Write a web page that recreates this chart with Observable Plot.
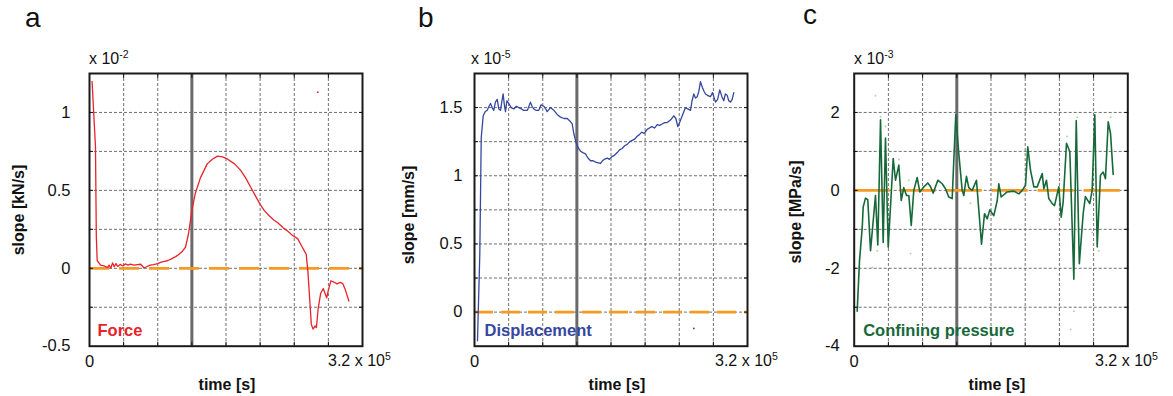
<!DOCTYPE html>
<html><head><meta charset="utf-8">
<script src="https://cdn.jsdelivr.net/npm/d3@7"></script>
<script src="https://cdn.jsdelivr.net/npm/@observablehq/plot@0.6"></script>
<style>
body{margin:0;background:#fff;font-family:"Liberation Sans",Arial,sans-serif;color:#111;}
#wrap{position:relative;width:1173px;height:396px;overflow:hidden;}
.p{position:absolute;top:0;}
.t{position:absolute;white-space:nowrap;line-height:16px;font-size:16px;}
.t sup{font-size:10.5px;vertical-align:6px;line-height:0;}
.letter{position:absolute;font-size:28px;line-height:28px;white-space:nowrap;}
.title{position:absolute;font-weight:bold;font-size:16px;white-space:nowrap;transform:translate(-50%,-50%);}
.ytitle{position:absolute;font-weight:bold;font-size:16px;white-space:nowrap;transform:translate(-50%,-50%) rotate(-90deg);}
</style></head>
<body><div id="wrap"></div>
<script>
// ---- shared axis data (time in units of 10^5 s) ----
const timeDomain = [0, 3.2];
const timeGrid = [0.4, 0.8, 1.2, 1.6, 2.0, 2.4, 2.8];
const stageTime = [1.2];
const timeTickLabels = [0];

// ---- panel a : Force (x 10^-2 kN/s) ----
const forceT = [0.03,0.07,0.08,0.09,0.13,0.17,0.21,0.23,0.25,0.27,0.29,0.31,0.33,0.36,0.39,0.42,0.45,0.48,0.52,0.56,0.60,0.64,0.67,0.71,0.75,0.80,0.84,0.88,0.92,0.96,1.01,1.05,1.09,1.125,1.16,1.20,1.24,1.30,1.38,1.44,1.50,1.56,1.62,1.70,1.77,1.83,1.89,1.95,2.00,2.05,2.10,2.16,2.21,2.27,2.32,2.38,2.44,2.49,2.52,2.54,2.56,2.58,2.60,2.62,2.645,2.66,2.68,2.71,2.74,2.76,2.78,2.80,2.83,2.87,2.90,2.94,2.97,3.00,3.04];
const forceV = [1.20,0.78,0.20,0.05,0.02,0.015,0.005,0.02,0.0,0.035,0.01,0.03,0.012,0.025,0.015,0.028,0.02,0.026,0.02,0.024,0.026,0.002,0.01,0.02,0.024,0.03,0.04,0.045,0.05,0.06,0.075,0.09,0.11,0.135,0.22,0.37,0.48,0.58,0.67,0.70,0.72,0.715,0.70,0.67,0.63,0.58,0.52,0.46,0.41,0.37,0.34,0.31,0.29,0.26,0.24,0.21,0.19,0.14,0.11,0.09,-0.02,-0.19,-0.36,-0.39,-0.37,-0.38,-0.26,-0.16,-0.13,-0.16,-0.19,-0.14,-0.08,-0.09,-0.10,-0.09,-0.10,-0.14,-0.21];
const forceStrayT = [2.676];
const forceStrayV = [1.13];
const forceYTicks = [-0.5, 0, 0.5, 1];
const forceYGrid = [-0.25, 0, 0.25, 0.5, 0.75, 1];

// ---- panel b : Displacement (x 10^-5 mm/s) ----
const dispT = [0.035,0.062,0.079,0.102,0.125,0.149,0.17,0.188,0.207,0.226,0.245,0.266,0.285,0.305,0.322,0.336,0.350,0.363,0.38,0.402,0.43,0.461,0.49,0.519,0.55,0.578,0.62,0.656,0.675,0.695,0.72,0.754,0.78,0.812,0.835,0.852,0.89,0.930,0.97,1.008,1.05,1.087,1.12,1.145,1.164,1.192,1.22,1.243,1.27,1.301,1.33,1.360,1.39,1.42,1.45,1.477,1.50,1.52,1.556,1.58,1.61,1.64,1.673,1.70,1.73,1.76,1.790,1.82,1.85,1.88,1.907,1.93,1.96,1.99,2.024,2.05,2.08,2.11,2.142,2.17,2.20,2.23,2.259,2.30,2.336,2.36,2.383,2.41,2.435,2.473,2.50,2.532,2.55,2.571,2.59,2.610,2.63,2.649,2.67,2.69,2.708,2.73,2.766,2.79,2.825,2.85,2.875,2.90,2.922,2.94,2.962,2.98,3.001,3.02,3.040];
const dispV = [-0.21,0.42,1.28,1.44,1.47,1.48,1.51,1.53,1.50,1.48,1.54,1.56,1.49,1.48,1.55,1.60,1.52,1.47,1.55,1.53,1.50,1.49,1.51,1.50,1.49,1.48,1.48,1.54,1.51,1.49,1.48,1.48,1.52,1.51,1.49,1.47,1.50,1.48,1.45,1.43,1.42,1.42,1.40,1.38,1.31,1.24,1.20,1.18,1.17,1.16,1.13,1.11,1.11,1.10,1.095,1.09,1.11,1.12,1.13,1.12,1.14,1.15,1.17,1.19,1.20,1.22,1.23,1.25,1.26,1.27,1.29,1.30,1.32,1.31,1.34,1.35,1.36,1.35,1.375,1.37,1.38,1.39,1.39,1.41,1.44,1.42,1.36,1.40,1.44,1.50,1.49,1.48,1.55,1.60,1.57,1.58,1.62,1.69,1.65,1.62,1.60,1.59,1.58,1.61,1.54,1.56,1.63,1.58,1.55,1.60,1.59,1.55,1.54,1.56,1.61];
const dispStrayT = [2.571];
const dispStrayV = [-0.12];
const dispYTicks = [0, 0.5, 1, 1.5];
const dispYGrid = [0, 0.25, 0.5, 0.75, 1, 1.25, 1.5];

// ---- panel c : Confining pressure (x 10^-3 MPa/s) ----
const confT = [0.035,0.062,0.094,0.105,0.132,0.159,0.191,0.249,0.276,0.308,0.339,0.366,0.398,0.456,0.483,0.522,0.550,0.580,0.612,0.639,0.667,0.697,0.737,0.767,0.807,0.861,0.892,0.924,0.978,1.029,1.068,1.106,1.146,1.188,1.223,1.263,1.282,1.313,1.340,1.380,1.430,1.489,1.524,1.556,1.586,1.633,1.673,1.691,1.719,1.789,1.867,1.925,1.965,2.004,2.030,2.062,2.101,2.140,2.199,2.218,2.249,2.276,2.316,2.343,2.393,2.421,2.444,2.483,2.522,2.569,2.597,2.633,2.678,2.704,2.755,2.783,2.814,2.842,2.880,2.912,2.939,2.971,2.998,3.029];
const confV = [-3.1,-1.81,-0.95,-0.43,-0.2,-0.24,-1.55,-0.13,-1.4,1.81,-1.34,1.34,-1.46,0.82,0.26,0.65,-0.26,0.07,-0.13,-0.13,-0.9,0,0.33,-0.04,0.07,0.19,0.1,-0.07,0.26,0.17,0.04,-0.17,-0.21,1.94,0.95,0,-0.13,0.36,0.07,0,0.26,-1.38,-0.6,-0.73,-0.5,-0.65,-0.26,0.17,-0.17,-0.04,-0.02,-0.09,0,0.13,1.12,0.52,0.09,0.09,0.43,0.04,0.26,-0.21,-0.34,-0.39,0.09,-0.69,-0.3,1.21,0.99,-2.28,1.79,-1.88,-0.6,-0.16,-0.34,0,1.94,-1.45,0.39,0.47,0.3,1.76,1.46,0.41];
const confRawT = [0.249,0.366,0.522,0.639,0.269,0.211,0.659,1.360,2.491,2.608,2.802,2.998,2.569,2.530,2.861,2.784,0.308];
const confRawV = [2.43,1.64,0.79,0.26,-1.55,-1.98,-1.62,-0.33,1.38,1.88,2.33,1.88,-3.1,-3.57,-1.55,-1.08,1.89];
const confYTicks = [-4, -2, 0, 2];
const confYGrid = [-3, -2, -1, 0, 1, 2];

const panels = [
  {left:0, width:390, mL:89, mR:28, yDomain:[-0.5,1.25], yTicks:forceYTicks, yGrid:forceYGrid, t:forceT, v:forceV,
   sT:forceStrayT, sV:forceStrayV, color:"#e8232b", lw:1.3, name:"Force", nameDx:8, yPad:19, dash:"20,10"},
  {left:390, width:390, mL:84, mR:33, yDomain:[-0.25,1.75], yTicks:dispYTicks, yGrid:dispYGrid, t:dispT, v:dispV,
   sT:dispStrayT, sV:dispStrayV, color:"#3547a0", lw:1.3, name:"Displacement", nameDx:10, yPad:12, dash:"19,8"},
  {left:780, width:393, mL:73.7, mR:45.7, yDomain:[-4,3], yTicks:confYTicks, yGrid:confYGrid, t:confT, v:confV,
   rT:confRawT, rV:confRawV, color:"#17693a", lw:1.6, name:"Confining pressure", nameDx:9, yPad:14.5, dash:"36,10"}
];

const wrap = document.getElementById("wrap");
const gridStyle = {stroke:"#4d4d4d", strokeWidth:0.8, strokeDasharray:"3,2"};

for (const c of panels) {
  const series = c.t.map((t, i) => ({t, v: c.v[i]}));
  const marks = [
    Plot.ruleX(timeGrid, gridStyle),
    Plot.ruleY(c.yGrid, gridStyle),
    Plot.ruleX(stageTime, {stroke:"#6a6a6a", strokeWidth:3}),
    Plot.ruleY([0], {stroke:"#f59a23", strokeWidth:2.8, strokeDasharray:c.dash}),
  ];
  if (c.rT) marks.push(Plot.dot(c.rT.map((t,i)=>({t, v:c.rV[i]})), {x:"t", y:"v", r:1, fill:"#a9dba0", stroke:null}));
  marks.push(Plot.line(series, {x:"t", y:"v", stroke:c.color, strokeWidth:c.lw}));
  if (c.sT) marks.push(Plot.dot(c.sT.map((t,i)=>({t, v:c.sV[i]})), {x:"t", y:"v", r:0.9, fill:c.color, stroke:null}));
  marks.push(
    Plot.text([c.name], {frameAnchor:"bottom-left", dx:c.nameDx, dy:-10.7, text:d=>d, fill:c.color, fontWeight:"bold", fontSize:16.5}),
    Plot.frame({stroke:"#1a1a1a", strokeWidth:2}),
    Plot.axisY({ticks:c.yTicks, tickSize:0, tickPadding:c.yPad, tickFormat:d=>String(d), label:null, fontSize:16.5}),
    Plot.axisY({anchor:"left", ticks:c.yGrid, tickSize:-4, tickFormat:()=>"", label:null}),
    Plot.axisY({anchor:"right", ticks:c.yGrid, tickSize:-4, tickFormat:()=>"", label:null}),
    Plot.axisX({ticks:timeTickLabels, tickSize:0, tickPadding:9.5, tickFormat:d=>String(d), label:null, fontSize:16.5}),
    Plot.axisX({anchor:"bottom", ticks:timeGrid, tickSize:-4, tickFormat:()=>"", label:null}),
    Plot.axisX({anchor:"top", ticks:timeGrid, tickSize:-4, tickFormat:()=>"", label:null})
  );
  const svg = Plot.plot({
    width:c.width, height:396,
    marginLeft:c.mL, marginRight:c.mR, marginTop:73, marginBottom:50.3,
    x:{domain:timeDomain}, y:{domain:c.yDomain},
    style:{fontFamily:"Liberation Sans, Arial, sans-serif", fontSize:"16px", color:"#111", background:"transparent", overflow:"visible"},
    marks
  });
  svg.classList.add("p");
  svg.style.left = c.left + "px";
  wrap.appendChild(svg);
}

// ---- text overlays ----
function add(cls, html, css) {
  const d = document.createElement("div");
  d.className = cls; d.innerHTML = html;
  Object.assign(d.style, css);
  wrap.appendChild(d);
}
add("letter", "a", {left:"25px", top:"4px"});
add("letter", "b", {left:"418px", top:"4px"});
add("letter", "c", {left:"803px", top:"1px"});
add("t", "x 10<sup>-2</sup>", {left:"89px", top:"50.5px"});
add("t", "x 10<sup>-5</sup>", {left:"471px", top:"50.5px"});
add("t", "x 10<sup>-3</sup>", {left:"854px", top:"50.5px"});
add("t", "3.2 x 10<sup>5</sup>", {left:"328px", top:"353px"});
add("t", "3.2 x 10<sup>5</sup>", {left:"715px", top:"353px"});
add("t", "3.2 x 10<sup>5</sup>", {left:"1095px", top:"353px"});
add("title", "time [s]", {left:"227px", top:"385px"});
add("title", "time [s]", {left:"617px", top:"385px"});
add("title", "time [s]", {left:"997px", top:"385px"});
add("ytitle", "slope [kN/s]", {left:"19px", top:"210px"});
add("ytitle", "slope [mm/s]", {left:"409px", top:"215px"});
add("ytitle", "slope [MPa/s]", {left:"796px", top:"212px"});
</script></body></html>
